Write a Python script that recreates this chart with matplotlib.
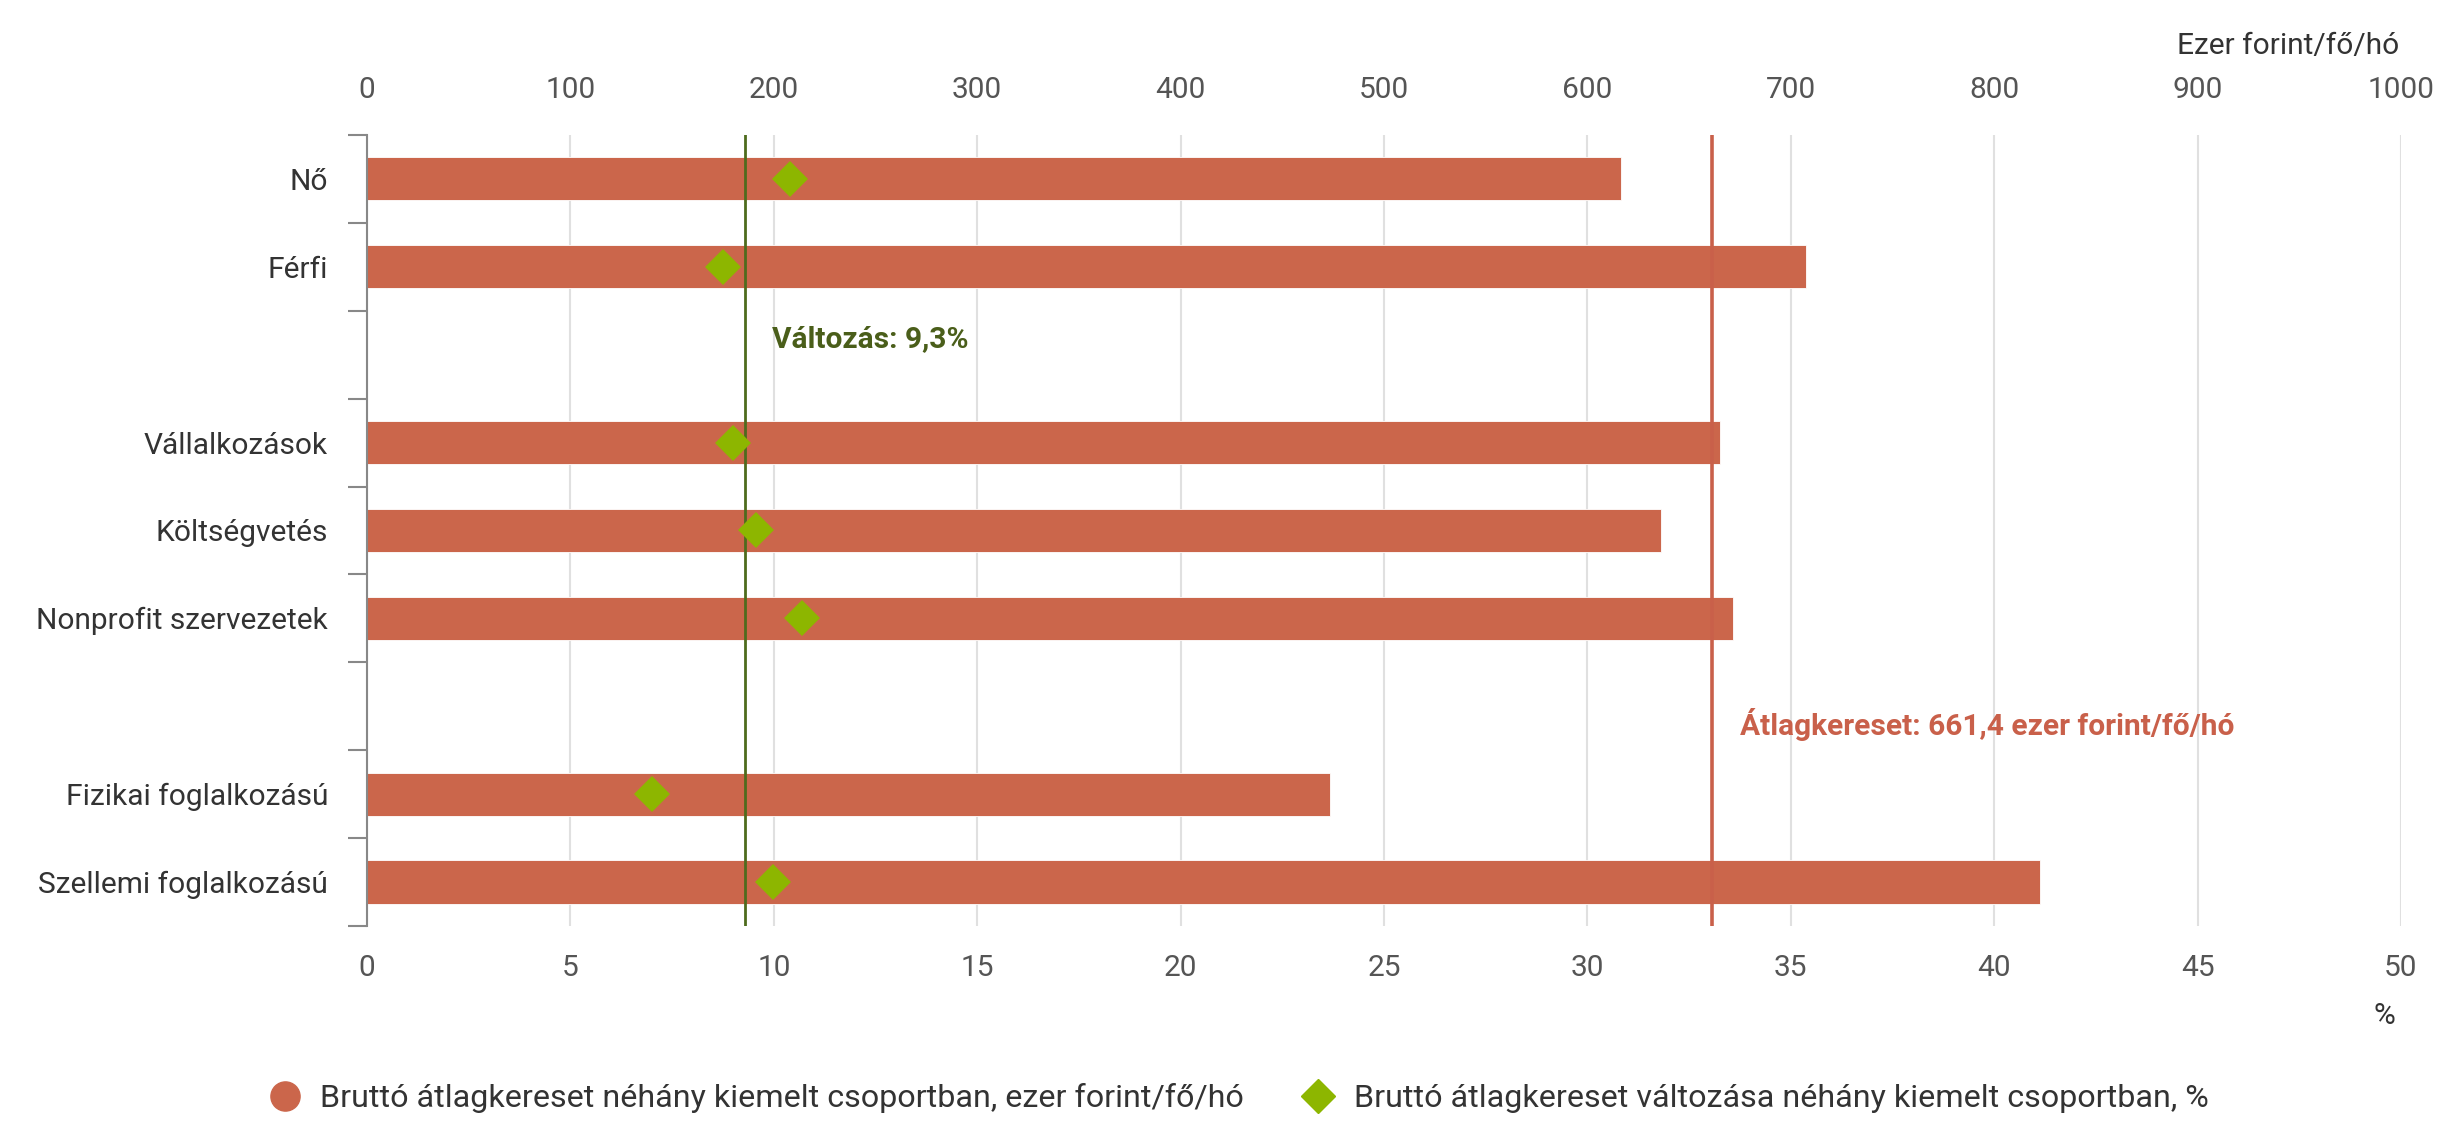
import matplotlib.pyplot as plt
from matplotlib.lines import Line2D

plt.rcParams['font.family'] = ['Roboto', 'DejaVu Sans']

# Data
categories = ['Nő', 'Férfi', '', 'Vállalkozások', 'Költségvetés',
              'Nonprofit szervezetek', '', 'Fizikai foglalkozású', 'Szellemi foglalkozású']
wages = [616.5, 707.5, None, 665, 636, 671.5, None, 473.5, 822.5]       # ezer forint/fő/hó
changes = [10.4, 8.75, None, 9.0, 9.55, 10.7, None, 7.0, 9.97]          # %
avg_wage = 661.4
avg_change = 9.3

bar_color = '#CB664B'
diamond_color = '#8DB600'
green_line = '#4E6B1D'
text_color = '#333333'
tick_color = '#555555'
fs = 21.5

fig = plt.figure(figsize=(24.6, 11.24), dpi=100)
ax = fig.add_axes([0.1492, 0.1762, 0.8268, 0.7037])

ypos = list(range(len(categories)))
bar_y = [y for y, v in zip(ypos, wages) if v is not None]
bar_v = [v for v in wages if v is not None]
ax.barh(bar_y, bar_v, height=0.49, color=bar_color, edgecolor='white', linewidth=0.6, zorder=2)
ax.axvline(avg_wage, color='#C9604A', linewidth=2.6, zorder=3)

ax.set_xlim(0, 1000)
ax.set_ylim(len(categories) - 0.5, -0.5)
ax.set_xticks(range(0, 1001, 100))
ax.grid(axis='x', color='#e0e0e0', linewidth=1.5)
ax.set_axisbelow(True)

# y axis: ticks at slot boundaries, labels in between
ax.set_yticks([y - 0.5 for y in range(len(categories) + 1)])
ax.set_yticklabels([])
ax.set_yticks(ypos, minor=True)
ax.set_yticklabels(categories, minor=True)
ax.tick_params(axis='y', which='major', length=14, width=1.5, color='#888888')
ax.tick_params(axis='y', which='minor', length=0, pad=28, labelsize=fs, labelcolor=text_color)

for s in ['top', 'right', 'bottom']:
    ax.spines[s].set_visible(False)
ax.spines['left'].set_color('#888888')
ax.spines['left'].set_linewidth(1.5)

# second axis for percent change
ax2 = ax.twiny()
ax2.set_xlim(0, 50)
ax2.set_xticks(range(0, 51, 5))
for s in ax2.spines.values():
    s.set_visible(False)

# wage axis on top, percent axis at the bottom
ax.xaxis.tick_top()
ax.tick_params(axis='x', length=0, pad=22, labelsize=fs, labelcolor=tick_color)
ax2.xaxis.tick_bottom()
ax2.tick_params(axis='x', length=0, pad=20, labelsize=fs, labelcolor=tick_color)

ax2.axvline(avg_change, color=green_line, linewidth=2.0, zorder=3)
dia_y = [y for y, v in zip(ypos, changes) if v is not None]
dia_v = [v for v in changes if v is not None]
ax2.plot(dia_v, dia_y, linestyle='none', marker='D', markersize=18,
         color=diamond_color, markeredgewidth=0, zorder=4)

ax2.text(avg_change + 0.66, 1.82, 'Változás: 9,3%', color='#4A5E1A', fontsize=fs,
         fontweight='bold', va='center', ha='left')
ax.text(avg_wage + 13.5, 6.21, 'Átlagkereset: 661,4 ezer forint/fő/hó', color='#C9604A',
        fontsize=fs, fontweight='bold', va='center', ha='left')

fig.text(2399 / 2460, 1 - 46 / 1124, 'Ezer forint/fő/hó', ha='right', va='center',
         fontsize=fs, color=text_color)
fig.text(2395 / 2460, 1 - 1016 / 1124, '%', ha='right', va='center',
         fontsize=fs, color=text_color)

handles = [
    Line2D([], [], linestyle='none', marker='o', markersize=21, color=bar_color),
    Line2D([], [], linestyle='none', marker='D', markersize=17, color=diamond_color),
]
labels = ['Bruttó átlagkereset néhány kiemelt csoportban, ezer forint/fő/hó',
          'Bruttó átlagkereset változása néhány kiemelt csoportban, %']
fig.legend(handles, labels, loc='center', bbox_to_anchor=(0.5035, 1 - 1098 / 1124),
           ncol=2, frameon=False, fontsize=23.2, handletextpad=0.6, columnspacing=1.8,
           labelcolor=text_color, handlelength=1.0)

fig.savefig('out.png', dpi=100)
